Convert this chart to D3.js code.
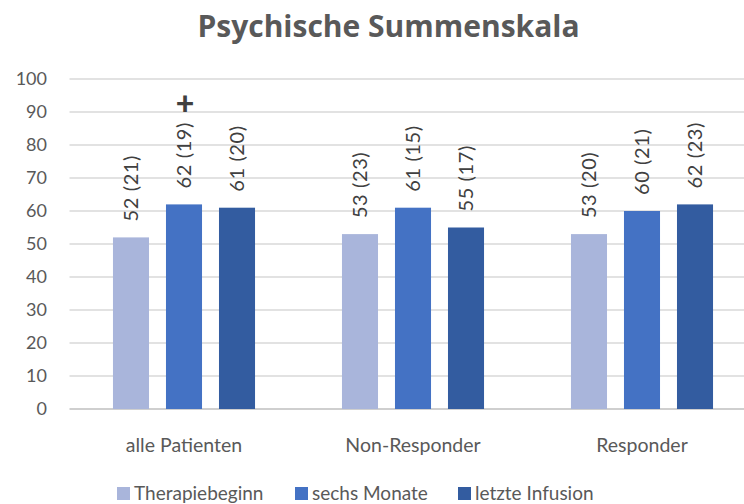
<!DOCTYPE html>
<html>
<head>
<meta charset="utf-8">
<script src="https://cdn.jsdelivr.net/npm/d3@7"></script>
<style>
  body { margin: 0; background: #fff; }
  text { font-family: Lato, "Open Sans", sans-serif; fill: #595959; }
</style>
</head>
<body>
<div id="chart"></div>
<script>
var categories = ["alle Patienten", "Non-Responder", "Responder"];
var seriesNames = ["Therapiebeginn", "sechs Monate", "letzte Infusion"];
var means = [
    [52, 62, 61],
    [53, 61, 55],
    [53, 60, 62]
];
var sds = [
    [21, 19, 20],
    [23, 15, 17],
    [20, 21, 23]
];
// significance marker: category index, series index
var markers = [{ cat: 0, ser: 1, sym: "+" }];
var yTicks = [0, 10, 20, 30, 40, 50, 60, 70, 80, 90, 100];

var colors = d3.scaleOrdinal()
    .domain(seriesNames)
    .range(["#a9b5db", "#4472c4", "#335ca0"]);

var width = 744, height = 504;
var margins = { left: 69.5, right: -12.5, top: 79, bottom: 95 };

var svg = d3.select("#chart").append("svg")
    .attr("width", width)
    .attr("height", height);

var x0 = d3.scaleBand()
    .domain(categories)
    .range([margins.left, width - margins.right])
    .paddingInner(0)
    .paddingOuter(0);

var x1 = d3.scaleBand()
    .domain(seriesNames)
    .range([0, x0.bandwidth()])
    .paddingInner(0.32)
    .paddingOuter(0.82);

var y = d3.scaleLinear()
    .domain([0, 100])
    .range([height - margins.bottom, margins.top]);

// grid
svg.append("g").selectAll("line")
    .data(yTicks)
    .enter().append("line")
    .attr("x1", margins.left)
    .attr("x2", width - margins.right)
    .attr("y1", function (d) { return y(d); })
    .attr("y2", function (d) { return y(d); })
    .attr("stroke", function (d) { return d === 0 ? "#bfbfbf" : "#d9d9d9"; })
    .attr("stroke-width", 1.3);

var yAxis = d3.axisLeft(y).tickValues(yTicks).tickSize(0).tickPadding(0);
var gy = svg.append("g")
    .attr("transform", "translate(47,0)")
    .call(yAxis);
gy.select(".domain").remove();
gy.selectAll("text")
    .style("font-size", "18px")
    .style("fill", "#595959")
    .style("font-family", "Lato, sans-serif");

var groups = svg.selectAll("g.cat")
    .data(categories)
    .enter().append("g")
    .attr("class", "cat")
    .attr("transform", function (d) { return "translate(" + x0(d) + ",0)"; });

function rows(d, i) {
    return seriesNames.map(function (s, j) {
        return { ser: s, v: means[i][j], sd: sds[i][j] };
    });
}

groups.selectAll("rect")
    .data(rows)
    .enter().append("rect")
    .attr("x", function (d) { return x1(d.ser); })
    .attr("width", x1.bandwidth())
    .attr("y", function (d) { return y(d.v); })
    .attr("height", function (d) { return y(0) - y(d.v); })
    .attr("fill", function (d) { return colors(d.ser); });

groups.selectAll("text.val")
    .data(rows)
    .enter().append("text")
    .attr("class", "val")
    .attr("transform", function (d) {
        return "translate(" + (x1(d.ser) + x1.bandwidth() / 2 + 7) + "," + (y(d.v) - 16) + ") rotate(-90)";
    })
    .style("font-size", "20px")
    .style("letter-spacing", "0.6px")
    .style("fill", "#404040")
    .text(function (d) { return d.v + " (" + d.sd + ")"; });

// "+" marker
svg.selectAll("text.mark")
    .data(markers)
    .enter().append("text")
    .attr("class", "mark")
    .attr("x", function (d) { return x0(categories[d.cat]) + x1(seriesNames[d.ser]) + x1.bandwidth() / 2 + 1; })
    .attr("y", 115)
    .attr("text-anchor", "middle")
    .style("font-size", "32px")
    .style("font-weight", "900")
    .style("fill", "#404040")
    .text(function (d) { return d.sym; });

// category labels
svg.selectAll("text.catlabel")
    .data(categories)
    .enter().append("text")
    .attr("class", "catlabel")
    .attr("x", function (d) { return x0(d) + x0.bandwidth() / 2; })
    .attr("y", 452)
    .attr("text-anchor", "middle")
    .style("font-size", "19.5px")
    .text(function (d) { return d; });

// title
svg.append("text")
    .attr("x", 388.5)
    .attr("y", 37)
    .attr("text-anchor", "middle")
    .style("font-family", "'Open Sans', sans-serif")
    .style("font-size", "30px")
    .style("font-weight", "bold")
    .text("Psychische Summenskala");

// legend
var legendX = [117, 295, 458];
var legend = svg.selectAll("g.legend")
    .data(seriesNames)
    .enter().append("g")
    .attr("class", "legend")
    .attr("transform", function (d, i) { return "translate(" + legendX[i] + ",487)"; });
legend.append("rect")
    .attr("width", 13)
    .attr("height", 13)
    .attr("fill", function (d) { return colors(d); });
legend.append("text")
    .attr("x", 17)
    .attr("y", 13)
    .style("font-size", "19px")
    .text(function (d) { return d; });
</script>
</body>
</html>
